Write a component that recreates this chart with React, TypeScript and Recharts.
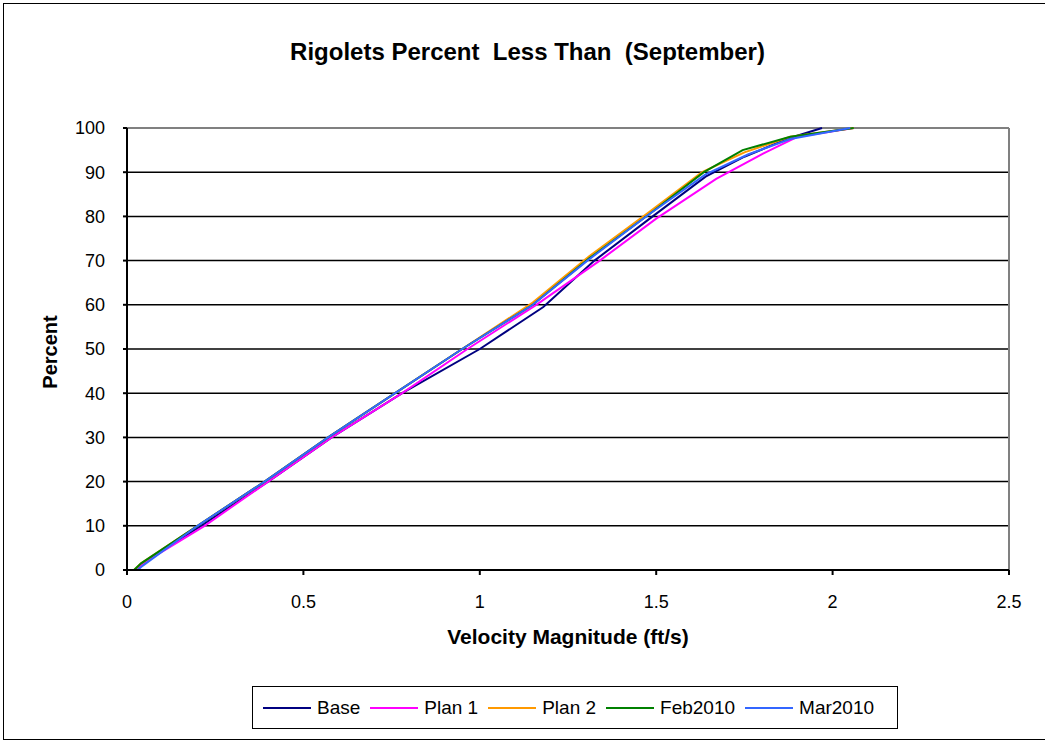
import React from "react";
import {
  CartesianGrid,
  Label,
  Line,
  LineChart,
  ReferenceLine,
  XAxis,
  YAxis,
} from "recharts";

const baseX = [0.03, 0.045, 0.21, 0.4, 0.58, 0.78, 1.0, 1.18, 1.325, 1.49, 1.64, 1.75, 1.87, 1.97];
const baseY = [0, 1.5, 10, 20, 30, 40, 50, 59.5, 70, 80, 89, 93.5, 97.5, 100];

const plan1X = [0.03, 0.045, 0.22, 0.4, 0.58, 0.78, 0.965, 1.16, 1.34, 1.5, 1.67, 1.81, 1.9, 2.06];
const plan1Y = [0, 1.5, 10, 20, 30, 40, 50, 60, 70, 79.5, 88.5, 94.5, 98, 100];

const plan2X = [0.02, 0.04, 0.2, 0.39, 0.57, 0.76, 0.95, 1.15, 1.31, 1.48, 1.63, 1.75, 1.88, 2.06];
const plan2Y = [0, 1.5, 10, 20, 30, 40, 50, 60.5, 71, 81, 90, 94.5, 98, 100];

const feb2010X = [0.02, 0.04, 0.2, 0.39, 0.57, 0.76, 0.95, 1.15, 1.31, 1.48, 1.635, 1.745, 1.88, 2.06];
const feb2010Y = [0, 1.5, 10, 20, 30, 40, 50, 60, 70.5, 80.5, 90, 95, 98, 100];

const mar2010X = [0.03, 0.045, 0.2, 0.39, 0.57, 0.76, 0.95, 1.15, 1.305, 1.48, 1.64, 1.76, 1.88, 2.05];
const mar2010Y = [0, 1, 10, 20, 30, 40, 50, 60, 70, 80.5, 89.5, 94, 97.5, 100];

const xTicks = [0, 0.5, 1, 1.5, 2, 2.5];
const yTicks = [0, 10, 20, 30, 40, 50, 60, 70, 80, 90, 100];

const toPoints = (xs: number[], ys: number[]) => xs.map((x, i) => ({ x, y: ys[i] }));

const series = [
  { name: "Base", color: "#000080", data: toPoints(baseX, baseY) },
  { name: "Plan 1", color: "#FF00FF", data: toPoints(plan1X, plan1Y) },
  { name: "Plan 2", color: "#FF9900", data: toPoints(plan2X, plan2Y) },
  { name: "Feb2010", color: "#008000", data: toPoints(feb2010X, feb2010Y) },
  { name: "Mar2010", color: "#3366FF", data: toPoints(mar2010X, mar2010Y) },
];

const FONT = "'Liberation Sans', Arial, sans-serif";
const tickStyle = { fill: "#000", fontSize: 18, fontFamily: FONT };

export default function App() {
  return (
    <div style={{ position: "absolute", left: 0, top: 0, width: 1045, height: 742, background: "#fff", fontFamily: FONT }}>
      <div style={{ position: "absolute", left: 3, top: 3, width: 1050, height: 735, border: "1px solid #000" }} />
      <div
        style={{
          position: "absolute",
          left: 0,
          top: 38,
          width: 1055,
          textAlign: "center",
          fontWeight: "bold",
          fontSize: 24,
          lineHeight: "28px",
          whiteSpace: "pre",
        }}
      >
        {"Rigolets Percent  Less Than  (September)"}
      </div>
      <LineChart
        width={1045}
        height={742}
        margin={{ top: 128, right: 36, bottom: 142, left: 0 }}
        style={{ position: "absolute", left: 0, top: 0 }}
      >
        <CartesianGrid horizontal vertical={false} stroke="#000" strokeWidth={1.5} />
        <XAxis
          type="number"
          dataKey="x"
          domain={[0, 2.5]}
          ticks={xTicks}
          height={30}
          stroke="#000"
          strokeWidth={2}
          tickSize={5}
          tickMargin={20}
          tick={tickStyle}
          allowDuplicatedCategory={false}
        >
          <Label
            value="Velocity Magnitude (ft/s)"
            position="bottom"
            offset={29}
            style={{ fontWeight: "bold", fontSize: 21, fill: "#000", fontFamily: FONT }}
          />
        </XAxis>
        <YAxis
          type="number"
          dataKey="y"
          domain={[0, 100]}
          ticks={yTicks}
          width={127}
          stroke="#000"
          strokeWidth={2}
          tickSize={4}
          tickMargin={18}
          tick={tickStyle}
        >
          <Label
            content={() => (
              <text
                x={50}
                y={352}
                transform="rotate(-90 50 352)"
                textAnchor="middle"
                dominantBaseline="central"
                style={{ fontWeight: "bold", fontSize: 20, fill: "#000", fontFamily: FONT }}
              >
                Percent
              </text>
            )}
          />
        </YAxis>
        <ReferenceLine y={100} stroke="#808080" strokeWidth={2} />
        <ReferenceLine x={2.5} stroke="#808080" strokeWidth={2} />
        {series.map((s) => (
          <Line
            key={s.name}
            data={s.data}
            dataKey="y"
            name={s.name}
            type="linear"
            stroke={s.color}
            strokeWidth={2}
            dot={false}
            activeDot={false}
            isAnimationActive={false}
          />
        ))}
      </LineChart>
      <div
        style={{
          position: "absolute",
          left: 252,
          top: 686,
          width: 646,
          height: 43,
          border: "1px solid #000",
          display: "flex",
          alignItems: "center",
          paddingLeft: 10,
          boxSizing: "border-box",
          fontSize: 19,
          whiteSpace: "nowrap",
        }}
      >
        {series.map((s) => (
          <div key={s.name} style={{ display: "flex", alignItems: "center", marginRight: 10, flexShrink: 0 }}>
            <div style={{ width: 48, height: 2, background: s.color, marginRight: 6 }} />
            <span>{s.name}</span>
          </div>
        ))}
      </div>
    </div>
  );
}
